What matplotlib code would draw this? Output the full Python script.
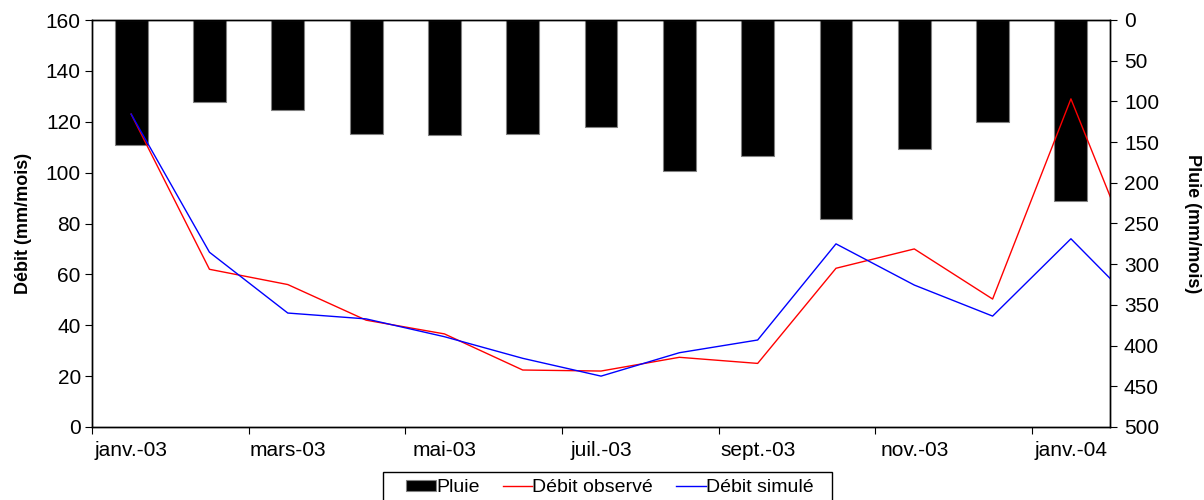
import matplotlib
matplotlib.use("Agg")
import matplotlib.pyplot as plt
from matplotlib.patches import Rectangle
import numpy as np

plt.rcParams['font.family'] = ['Liberation Sans', 'DejaVu Sans']

# Monthly categories (the last flow value, févr.-04, falls outside the axis)
months = ['janv.-03', 'févr.-03', 'mars-03', 'avr.-03', 'mai-03', 'juin-03', 'juil.-03',
          'août-03', 'sept.-03', 'oct.-03', 'nov.-03', 'déc.-03', 'janv.-04']
pluie = [153, 101, 110, 140, 141, 140, 132, 186, 167, 244, 158, 125, 222]
debit_obs = [123, 62, 56, 42, 36.6, 22.4, 22, 27.4, 25, 62.4, 70, 50.3, 129, 52.4]
debit_sim = [123, 68.7, 44.8, 42.5, 35.5, 27, 20, 29.2, 34.2, 72, 55.8, 43.6, 74, 42.8]

x_bar = np.arange(len(months))
x_line = np.arange(len(debit_obs))

fig = plt.figure(figsize=(12.04, 5.0), dpi=100)
ax1 = fig.add_axes([0.0764, 0.146, 0.922 - 0.0764, 0.814])
ax2 = ax1.twinx()

# Rain bars hanging from the top (inverted right axis)
bars = ax2.bar(x_bar, pluie, width=0.42, color='black', edgecolor='#808080', linewidth=0.8)
ax2.set_ylim(500, 0)
ax2.set_yticks(np.arange(0, 501, 50))
ax2.set_ylabel('Pluie (mm/mois)', fontsize=13, fontweight='bold', rotation=-90, labelpad=30)

# Flow lines on top
ax1.set_zorder(ax2.get_zorder() + 1)
ax1.patch.set_visible(False)
l1, = ax1.plot(x_line, debit_obs, color='red', linewidth=1)
l2, = ax1.plot(x_line, debit_sim, color='blue', linewidth=1)
ax1.set_ylim(0, 160)
ax1.set_yticks(np.arange(0, 161, 20))
ax1.set_ylabel('Débit (mm/mois)', fontsize=13, fontweight='bold', labelpad=10)
ax1.set_xlim(-0.5, len(months) - 0.5)

# x ticks: marks between months every two months, labels at month centres
ax1.set_xticks(np.arange(-0.5, len(months) - 1, 2))
ax1.set_xticklabels([])
ax1.set_xticks(x_bar[::2], minor=True)
ax1.set_xticklabels(months[::2], minor=True)
ax1.tick_params(axis='x', which='minor', length=0, pad=10, labelsize=15)
ax1.tick_params(axis='x', which='major', length=5, direction='out')
ax1.tick_params(axis='y', labelsize=15, length=5, pad=3)
ax2.tick_params(axis='y', labelsize=15, length=5, pad=5)

for ax in (ax1, ax2):
    for s in ax.spines.values():
        s.set_linewidth(1)
        s.set_color('black')

# legend box drawn by hand so its padding matches the original
fig.patches.append(Rectangle((383 / 1204, -0.01), (832 - 383) / 1204, 0.01 + 28 / 500,
                             transform=fig.transFigure, facecolor='white',
                             edgecolor='black', linewidth=1))
fig.legend([bars, l1, l2], ['Pluie', 'Débit observé', 'Débit simulé'],
           loc='center', bbox_to_anchor=(610 / 1204, 12 / 500), ncol=3,
           fontsize=14, frameon=False, handlelength=1.5, handletextpad=0.02,
           columnspacing=1.2, borderpad=0, handleheight=0.5)

fig.savefig('out.png', dpi=100)
